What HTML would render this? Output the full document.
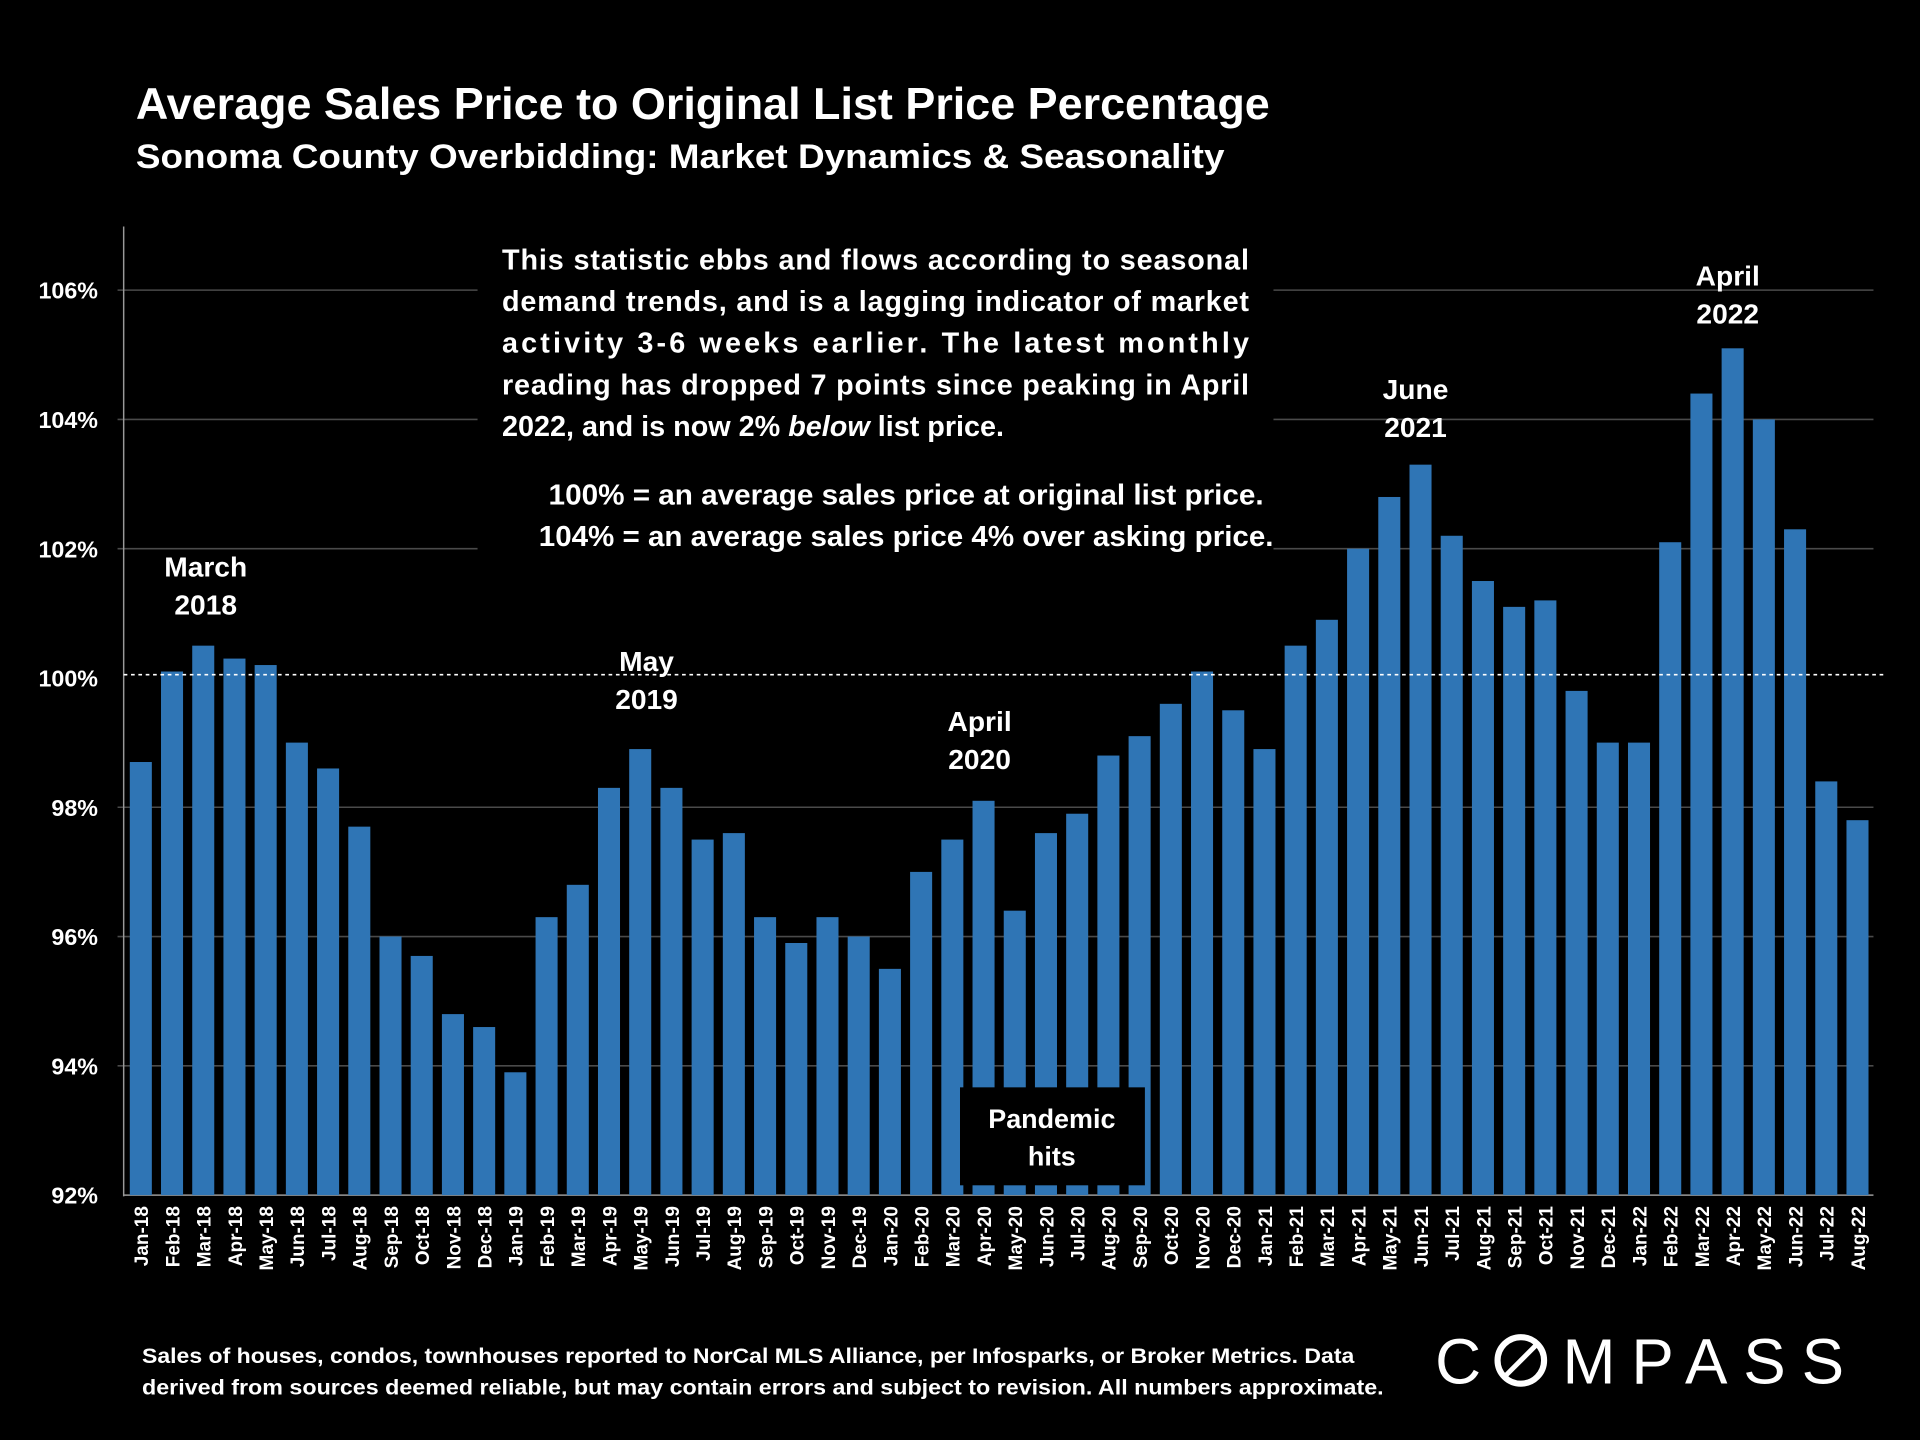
<!DOCTYPE html>
<html><head><meta charset="utf-8"><style>
html,body{margin:0;padding:0;background:#000;width:1920px;height:1440px;overflow:hidden}
svg{display:block}
text{font-family:"Liberation Sans",sans-serif;fill:#fff;font-weight:bold}
</style></head><body>
<svg id="chart" width="1920" height="1440" viewBox="0 0 1568 1176" xmlns="http://www.w3.org/2000/svg">
<rect width="1568" height="1176" fill="#000"/>
<text x="111" y="97" font-size="36" textLength="926" lengthAdjust="spacingAndGlyphs">Average Sales Price to Original List Price Percentage</text>
<text x="111" y="137" font-size="28" textLength="889" lengthAdjust="spacingAndGlyphs">Sonoma County Overbidding: Market Dynamics &amp; Seasonality</text>
<g id="grid"></g>
<g id="bars"></g>
<line x1="101" y1="185" x2="101" y2="977" stroke="#999" stroke-width="1.2"/>
<g id="ylabels"></g>
<g id="xlabels"></g>
<rect x="390" y="190" width="650" height="270" fill="#000"/>
<g font-size="23.5">
<text x="410" y="220" textLength="610" lengthAdjust="spacing">This statistic ebbs and flows according to seasonal</text>
<text x="410" y="254" textLength="610" lengthAdjust="spacing">demand trends, and is a lagging indicator of market</text>
<text x="410" y="288" textLength="610" lengthAdjust="spacing">activity 3-6 weeks earlier. The latest monthly</text>
<text x="410" y="322" textLength="610" lengthAdjust="spacing">reading has dropped 7 points since peaking in April</text>
<text x="410" y="356">2022, and is now 2% <tspan font-style="italic">below</tspan> list price.</text>
<text x="448" y="412" textLength="584" lengthAdjust="spacingAndGlyphs">100% = an average sales price at original list price.</text>
<text x="440" y="446" textLength="600" lengthAdjust="spacingAndGlyphs">104% = an average sales price 4% over asking price.</text>
</g>
<line x1="101" y1="551" x2="1538" y2="551" stroke="#fff" stroke-width="1.3" stroke-dasharray="3,3"/>
<g font-size="23" text-anchor="middle">
<text x="168" y="471">March</text><text x="168" y="502">2018</text>
<text x="528" y="548">May</text><text x="528" y="579">2019</text>
<text x="800" y="597">April</text><text x="800" y="628">2020</text>
<text x="1156" y="326">June</text><text x="1156" y="357">2021</text>
<text x="1411" y="233">April</text><text x="1411" y="264">2022</text>
</g>
<rect x="784" y="888" width="151" height="80" fill="#000"/>
<text x="859" y="921" font-size="22" text-anchor="middle">Pandemic</text>
<text x="859" y="952" font-size="22" text-anchor="middle">hits</text>
<g font-size="17.5">
<text x="116" y="1113" textLength="990" lengthAdjust="spacingAndGlyphs">Sales of houses, condos, townhouses reported to NorCal MLS Alliance, per Infosparks, or Broker Metrics. Data</text>
<text x="116" y="1139" textLength="1014" lengthAdjust="spacingAndGlyphs">derived from sources deemed reliable, but may contain errors and subject to revision. All numbers approximate.</text>
</g>
<g>
<text x="1172" y="1130" font-size="52" style="font-weight:normal">C</text>
<circle cx="1242" cy="1111" r="19" fill="none" stroke="#fff" stroke-width="5"/>
<line x1="1228" y1="1125" x2="1256" y2="1097" stroke="#fff" stroke-width="4"/>
<text x="1276" y="1130" font-size="52" textLength="230" lengthAdjust="spacing" style="font-weight:normal">MPASS</text>
</g>
</svg>
<script>
const categories=["Jan-18","Feb-18","Mar-18","Apr-18","May-18","Jun-18","Jul-18","Aug-18","Sep-18","Oct-18","Nov-18","Dec-18","Jan-19","Feb-19","Mar-19","Apr-19","May-19","Jun-19","Jul-19","Aug-19","Sep-19","Oct-19","Nov-19","Dec-19","Jan-20","Feb-20","Mar-20","Apr-20","May-20","Jun-20","Jul-20","Aug-20","Sep-20","Oct-20","Nov-20","Dec-20","Jan-21","Feb-21","Mar-21","Apr-21","May-21","Jun-21","Jul-21","Aug-21","Sep-21","Oct-21","Nov-21","Dec-21","Jan-22","Feb-22","Mar-22","Apr-22","May-22","Jun-22","Jul-22","Aug-22"];
const values=[98.7,100.1,100.5,100.3,100.2,99.0,98.6,97.7,96.0,95.7,94.8,94.6,93.9,96.3,96.8,98.3,98.9,98.3,97.5,97.6,96.3,95.9,96.3,96.0,95.5,97.0,97.5,98.1,96.4,97.6,97.9,98.8,99.1,99.6,100.1,99.5,98.9,100.5,100.9,102.0,102.8,103.3,102.2,101.5,101.1,101.2,99.8,99.0,99.0,102.1,104.4,105.1,104.0,102.3,98.4,97.8];
const yTicks=[92,94,96,98,100,102,104,106];
const yTickLabels=["92%","94%","96%","98%","100%","102%","104%","106%"];
const NS="http://www.w3.org/2000/svg";
const y=v=>976-(v-92)*52.79;
const x=i=>115+i*25.49;
function mk(t,a,p){const e=document.createElementNS(NS,t);for(const k in a)e.setAttribute(k,a[k]);p.appendChild(e);return e;}
const grid=document.getElementById('grid'),yl=document.getElementById('ylabels');
yTicks.forEach((t,i)=>{
  if(t!==92&&t!==100){const l=mk('line',{x1:96,x2:1530,y1:y(t),y2:y(t),stroke:'#4a4a4a','stroke-width':1.3},grid);
  
  }
  const tx=mk('text',{x:80,y:y(t)+7,'font-size':19,'text-anchor':'end'},yl);
  tx.textContent=yTickLabels[i];
  
  
});
const bl=mk('line',{x1:101,x2:1530,y1:976,y2:976,stroke:'#999','stroke-width':1.2},grid);


const bars=document.getElementById('bars'),xl=document.getElementById('xlabels');
values.forEach((v,i)=>{
  const r=mk('rect',{x:x(i)-9,y:y(v),width:18,height:976-y(v),fill:'#2f75b5'},bars);
  
  
  const t=mk('text',{transform:`translate(${x(i)+6},985) rotate(-90)`,'font-size':15.5,'text-anchor':'end'},xl);
  t.textContent=categories[i];
  
  
});
</script>
</body></html>
